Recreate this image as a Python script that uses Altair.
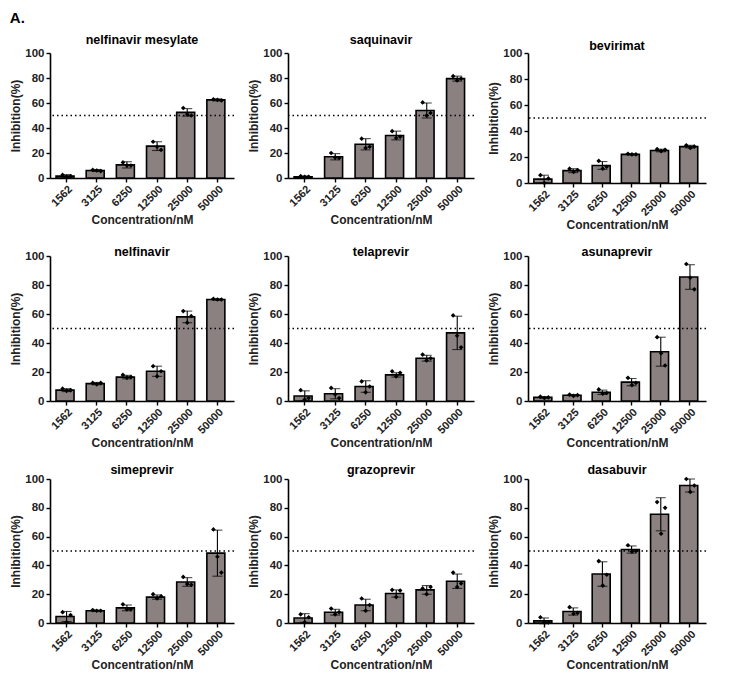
import altair as alt
import pandas as pd

concentrations = ["1562", "3125", "6250", "12500", "25000", "50000"]
drugs = ["nelfinavir mesylate", "saquinavir", "bevirimat",
         "nelfinavir", "telaprevir", "asunaprevir",
         "simeprevir", "grazoprevir", "dasabuvir"]

mean_values = [
    [1.5, 6, 10.5, 25.5, 52.5, 62.5],
    [1, 17, 27, 34, 54, 79.5],
    [3, 9.5, 13.5, 22, 25, 28],
    [7.5, 12, 16.5, 20.5, 58, 70],
    [3.5, 5, 10, 18, 29.5, 47],
    [2.5, 4, 6, 13, 34, 85.5],
    [4.5, 8.5, 10.5, 18, 28.5, 48.5],
    [3.5, 7.5, 12.5, 20.5, 23, 29],
    [1.5, 8, 34, 51, 75.5, 95.5],
]
sd_values = [
    [1.2, 0.8, 2.5, 3.5, 3, 0.8],
    [0.6, 2.5, 4.5, 3.5, 6, 2],
    [3, 1.5, 3, 0.5, 1, 1],
    [1, 0.8, 1.2, 3.5, 4, 0.5],
    [3.5, 3.5, 4, 1.5, 2, 11.5],
    [0.5, 0.5, 1.5, 2.5, 10, 8.5],
    [3.5, 0.5, 2, 1.5, 3, 16],
    [3, 2, 4, 2.5, 3, 5],
    [2, 2.5, 8.5, 2.5, 11.5, 4.5],
]
rep1_values = [
    [2.5, 6.5, 12.5, 29, 56, 63],
    [1.5, 20, 31.5, 37.5, 60.5, 81.5],
    [6, 11, 17, 22.5, 26, 29],
    [8.5, 12.5, 18, 24, 62, 70.5],
    [7.5, 9, 13.5, 20.5, 32, 59],
    [3, 4.5, 8, 16, 44, 94.5],
    [7.5, 9, 13, 20, 32, 65],
    [6, 10, 17, 23, 24, 35],
    [4, 11, 43, 54, 84, 100],
]
rep2_values = [
    [1, 6, 10, 25, 51, 62.5],
    [1, 16.5, 24, 32, 50, 78],
    [0, 8.5, 11, 22, 24.5, 27],
    [7, 11.5, 16, 17, 54, 70],
    [1, 4.5, 6, 17, 28, 45],
    [2, 3.5, 5, 11, 33, 85],
    [0.5, 8.5, 9.5, 17, 27, 46],
    [0.5, 6, 8.5, 18, 20, 25],
    [0.5, 6.5, 26, 49.5, 62, 91],
]
rep3_values = [
    [1.5, 5.5, 10, 22.5, 50, 62],
    [1, 16, 25, 33, 52, 79.5],
    [3.5, 10, 12.5, 22, 25.5, 28],
    [7.5, 12.5, 16.5, 20.5, 58.5, 70],
    [2, 2, 10, 19.5, 29.5, 37],
    [2.5, 4, 5.5, 12.5, 24.5, 77],
    [5.5, 8.5, 9.5, 18.5, 26.5, 35],
    [4, 7.5, 12.5, 22.5, 25, 27.5],
    [0.5, 7, 33.5, 50, 80, 95.5],
]

FONT = "Liberation Sans"
BAR_FILL = "#8a8180"
PAD_IN, PAD_OUT = 0.3, 0.2

widths = [184, 186, 178, 184, 186, 178, 184, 186, 178]
heights = [125, 125, 130, 145, 145, 145, 144, 144, 144]
title_offsets = [1, 1, -5, -8, -8, -8, -3, -3, -3]


def panel(i):
    bars = pd.DataFrame({
        "conc": concentrations,
        "mean": mean_values[i],
        "lo": [m - s for m, s in zip(mean_values[i], sd_values[i])],
        "hi": [m + s for m, s in zip(mean_values[i], sd_values[i])],
    })
    pts = pd.DataFrame({
        "conc": concentrations * 3,
        "rep": ["a"] * 6 + ["b"] * 6 + ["c"] * 6,
        "val": rep1_values[i] + rep2_values[i] + rep3_values[i],
    })
    n = len(concentrations)
    step = widths[i] / (n - PAD_IN + 2 * PAD_OUT)
    half_bw = step * (1 - PAD_IN) / 2

    xaxis = alt.Axis(title="Concentration/nM", labelAngle=-45)
    xscale = alt.Scale(paddingInner=PAD_IN, paddingOuter=PAD_OUT)

    def xenc():
        return alt.X("conc:N", sort=concentrations, scale=xscale, axis=xaxis)

    yscale = alt.Scale(domain=[0, 100], nice=False)
    yaxis = alt.Axis(title="Inhibition(%)", values=[0, 20, 40, 60, 80, 100],
                     labelOverlap=False, grid=False)

    def yenc(field):
        return alt.Y(field, scale=yscale, axis=yaxis)

    base = alt.Chart(bars)
    b = base.mark_bar(fill=BAR_FILL, stroke="black", strokeWidth=1.6).encode(
        x=xenc(), y=yenc("mean:Q"))
    err = base.mark_rule(color="black", strokeWidth=1.1).encode(
        x=xenc(), y=yenc("lo:Q"), y2="hi:Q")
    cap_hi = base.mark_tick(color="black", thickness=1.1, size=10).encode(
        x=xenc(), y=yenc("hi:Q"))
    cap_lo = base.mark_tick(color="black", thickness=1.1, size=10).encode(
        x=xenc(), y=yenc("lo:Q"))
    dots = alt.Chart(pts).mark_point(filled=True, color="black", size=22,
                                     shape="diamond", opacity=1).encode(
        x=xenc(),
        xOffset=alt.XOffset("rep:N", scale=alt.Scale(
            range=[half_bw - 6, half_bw + 6])),
        y=yenc("val:Q"))
    ref = alt.Chart(pd.DataFrame({"y": [50]})).mark_rule(
        color="black", strokeDash=[1.5, 3], strokeWidth=1.3).encode(
        y=yenc("y:Q"))

    return alt.layer(b, ref, err, cap_hi, cap_lo, dots).properties(
        width=widths[i], height=heights[i],
        title=alt.TitleParams(drugs[i], fontSize=12.5, font=FONT,
                              fontWeight="bold", offset=title_offsets[i]))


rows = [alt.hconcat(*[panel(r * 3 + c) for c in range(3)], spacing=12)
        for r in range(3)]

chart = alt.vconcat(*rows, spacing=14).properties(
    padding={"left": 1, "top": 2, "right": 2, "bottom": 2},
    title=alt.TitleParams("A.", anchor="start", fontSize=15, font=FONT,
                          fontWeight="bold", offset=8)
).configure_view(strokeWidth=0).configure_axis(
    labelFont=FONT, labelFontWeight="bold", labelFontSize=11,
    labelColor="#222222",
    titleFont=FONT, titleFontWeight="bold", titleFontSize=12,
    titleColor="#222222",
    domainColor="black", domainWidth=1.6, tickColor="black",
    tickWidth=1.4, tickSize=4, grid=False, labelPadding=2, titlePadding=2,
    labelOverlap=False
).configure_axisY(labelFontSize=11.5).configure_axisX(labelPadding=1)

chart.save("out.html", embed_options={"renderer": "svg", "actions": False})
